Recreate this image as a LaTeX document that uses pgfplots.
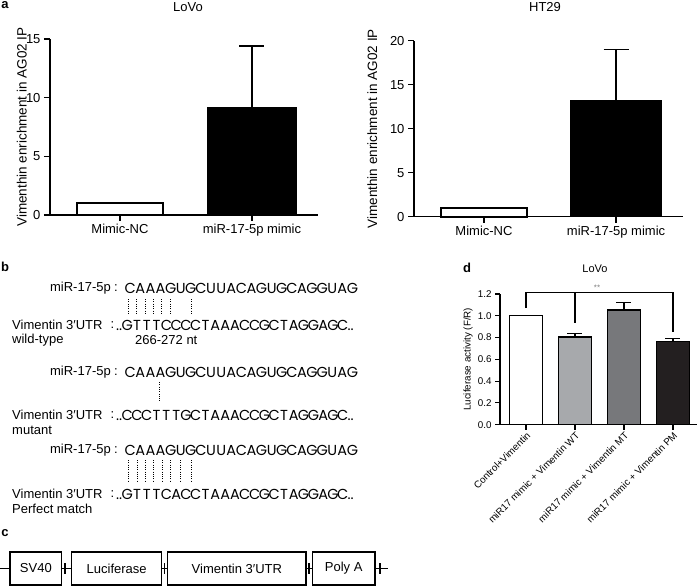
\documentclass[border=0pt]{standalone}
\usepackage{pgfplots}
\pgfplotsset{compat=1.18}
\usepackage{fontspec}
\setmainfont{Liberation Sans}
\newfontfamily\seqf{Poppins}
\definecolor{gA}{HTML}{A7A9AC}
\definecolor{gB}{HTML}{77787B}
\definecolor{gC}{HTML}{231F20}
\def\sq#1{\ifx#1\relax\else\makebox[10.1pt]{#1}\expandafter\sq\fi}
\def\sw#1{\ifx#1\relax\else\makebox[9.8pt]{#1}\expandafter\sw\fi}
\newcommand\fa{\fontsize{13}{15}\selectfont}
\newcommand\fal{\fontsize{13.5}{15}\selectfont}
\newcommand\fd{\fontsize{9.8}{11}\selectfont}
\newcommand\fb{\fontsize{13}{15}\selectfont}
\newcommand\fs{\seqf\fontsize{14.5}{16}\selectfont}
\pgfplotsset{
  barax/.style={scale only axis, anchor=south west, axis lines=left,
    axis line style={-, line width=1.3pt}, tick style={black, line width=1.3pt},
    tick align=outside, clip=false, ymin=0,
    /pgf/number format/assume math mode=true},
  errA/.style={error bars/.cd, y dir=plus, y explicit,
    error bar style={line width=1.4pt, black},
    error mark options={rotate=90, mark size=12.5pt, line width=1.4pt, black}},
  errD/.style={error bars/.cd, y dir=plus, y explicit,
    error bar style={line width=1.2pt, black},
    error mark options={rotate=90, mark size=7.5pt, line width=1.2pt, black}},
}
\begin{document}
\begin{tikzpicture}
\useasboundingbox (0,0) rectangle (698pt,587pt);

% ---- panel a, LoVo
\begin{axis}[barax, at={(50pt,372pt)}, width=268pt, height=176pt,
  xmin=-0.53, xmax=1.5, ymax=15, ytick={0,5,10,15},
  xtick={0,1}, xticklabels={Mimic-NC, miR-17-5p mimic},
  major tick length=6pt, tick label style={font=\fa},
  ylabel={Vimenthin enrichment in AG02 IP},
  ylabel style={font=\fal, at={(axis description cs:-0.105,0.5)}, anchor=center},
  title={LoVo}, title style={font=\fa, at={(axis description cs:0.515,1)}, anchor=base, yshift=21pt}]
\addplot[ybar, bar width=0.65, bar shift=0pt, fill=white, draw=black, line width=2pt] coordinates {(0,1.0)};
\addplot[ybar, bar width=0.67, bar shift=0pt, fill=black, draw=black, line width=1.5pt, errA] coordinates {(1,9.15) +- (0,5.25)};
\end{axis}

% ---- panel a, HT29
\begin{axis}[barax, at={(414pt,370.3pt)}, width=269pt, height=176pt,
  xmin=-0.53, xmax=1.507, ymax=20, ytick={0,5,10,15,20},
  xtick={0,1}, xticklabels={Mimic-NC, miR-17-5p mimic},
  major tick length=6pt, tick label style={font=\fa},
  ylabel={Vimenthin enrichment in AG02 IP},
  ylabel style={font=\fal, at={(axis description cs:-0.155,0.5)}, anchor=center},
  title={HT29}, title style={font=\fa, at={(axis description cs:0.487,1)}, anchor=base, yshift=22.7pt}]
\addplot[ybar, bar width=0.65, bar shift=0pt, fill=white, draw=black, line width=2pt] coordinates {(0,1.0)};
\addplot[ybar, bar width=0.68, bar shift=0pt, fill=black, draw=black, line width=1.5pt, errA] coordinates {(1,13.15) +- (0,5.85)};
\end{axis}

% ---- panel d
\begin{axis}[barax, at={(500pt,162.3pt)}, width=197pt, height=130.7pt,
  axis line style={-, line width=1.1pt}, tick style={black, line width=1.1pt},
  xmin=-0.53, xmax=3.49, ymax=1.2, ytick={0,0.2,0.4,0.6,0.8,1.0,1.2},
  yticklabel style={/pgf/number format/.cd, fixed, fixed zerofill, precision=1},
  xtick={0,1,2,3},
  xticklabels={Control+Vimentin, miR17 mimic + Vimentin WT, miR17 mimic + Vimentin MT, miR17 mimic + Vimentin PM},
  xticklabel style={rotate=45, anchor=north east, inner sep=1pt},
  major tick length=5pt, tick label style={font=\fd},
  ylabel={Luciferase activity (F/R)},
  ylabel style={font=\fd, at={(axis description cs:-0.162,0.5)}, anchor=center},
  title={LoVo}, title style={font=\fontsize{11}{13}\selectfont, at={(axis description cs:0.482,1)}, anchor=base, yshift=15.5pt}]
\addplot[ybar, bar width=0.66, bar shift=0pt, fill=white, draw=black, line width=1.3pt] coordinates {(0,1.0)};
\addplot[ybar, bar width=0.66, bar shift=0pt, fill=gA, draw=black, line width=1.3pt, errD] coordinates {(1,0.805) +- (0,0.033)};
\addplot[ybar, bar width=0.66, bar shift=0pt, fill=gB, draw=black, line width=1.3pt, errD] coordinates {(2,1.052) +- (0,0.071)};
\addplot[ybar, bar width=0.66, bar shift=0pt, fill=gC, draw=black, line width=1.3pt, errD] coordinates {(3,0.762) +- (0,0.031)};
\draw[line width=1.1pt] (axis cs:0,1.07) -- (axis cs:0,1.212) -- (axis cs:3,1.212) -- (axis cs:3,0.853);
\draw[line width=1.1pt] (axis cs:1,1.212) -- (axis cs:1,0.93);
\node[font=\fontsize{8}{9}\selectfont, text=gray, inner sep=0] at (axis cs:1.45,1.262) {**};
\end{axis}

\begin{scope}[x=1pt, y=-1pt, yshift=587pt]
% panel letters
\node[font=\bfseries\fontsize{13}{15}\selectfont, inner sep=0] at (5,5) {a};
\node[font=\bfseries\fontsize{13}{15}\selectfont, inner sep=0] at (5,267) {b};
\node[font=\bfseries\fontsize{13}{15}\selectfont, inner sep=0] at (5,533) {c};
\node[font=\bfseries\fontsize{13}{15}\selectfont, inner sep=0] at (467,268) {d};

% ---- panel b
\begin{scope}[every node/.style={inner sep=0}]
% block 1
\node[anchor=east, font=\fb] at (111,288) {miR-17-5p};
\node[font=\fb] at (116,288) {:};
\node[anchor=west, font=\fs] at (125,288) {\sq CAAAGUGCUUACAGUGCAGGUAG\relax};
\foreach \xx in {128.5,136.7,145,153.3,161.7,170,191.7}
  \draw[line width=1pt, dash pattern=on 0.9pt off 1.4pt] (\xx,299) -- (\xx,314);
\node[anchor=west, font=\fb] at (12,325) {Vimentin 3′UTR};
\node[font=\fb] at (112.5,325) {:};
\node[anchor=west, font=\fs] at (116,325) {..\sw GTTTCCCCTAAACCGCTAGGAGC\relax..};
\node[anchor=west, font=\fb] at (12,340) {wild-type};
\node[anchor=west, font=\fb] at (135,340) {266-272 nt};
% block 2
\node[anchor=east, font=\fb] at (111,372) {miR-17-5p};
\node[font=\fb] at (116,372) {:};
\node[anchor=west, font=\fs] at (125,372) {\sq CAAAGUGCUUACAGUGCAGGUAG\relax};
\draw[line width=1pt, dash pattern=on 0.9pt off 1.4pt] (159,382) -- (159,401);
\node[anchor=west, font=\fb] at (12,415) {Vimentin 3′UTR};
\node[font=\fb] at (112.5,415) {:};
\node[anchor=west, font=\fs] at (116,415) {..\sw CCCTTTGCTAAACCGCTAGGAGC\relax..};
\node[anchor=west, font=\fb] at (12,430) {mutant};
% block 3
\node[anchor=east, font=\fb] at (111,450) {miR-17-5p};
\node[font=\fb] at (116,450) {:};
\node[anchor=west, font=\fs] at (125,450) {\sq CAAAGUGCUUACAGUGCAGGUAG\relax};
\foreach \xx in {128,137,145,153.3,162,170,180,191}
  \draw[line width=1pt, dash pattern=on 0.9pt off 1.4pt] (\xx,460) -- (\xx,482);
\node[anchor=west, font=\fb] at (12,494) {Vimentin 3′UTR};
\node[font=\fb] at (112.5,494) {:};
\node[anchor=west, font=\fs] at (116,494) {..\sw GTTTCACCTAAACCGCTAGGAGC\relax..};
\node[anchor=west, font=\fb] at (12,509) {Perfect match};
\end{scope}

% ---- panel c
\draw[line width=1.3pt] (0,568.5) -- (388,568.5);
\foreach \xx in {65,164.5,309,380}
  \draw[line width=1.3pt] (\xx,563) -- (\xx,574);
\foreach \a/\b/\t in {10/61.7/SV40, 71.7/161.7/Luciferase, 167.7/306/Vimentin 3′UTR, 312.3/375/Poly A}
  \draw[line width=1.4pt, fill=white] (\a,552) rectangle (\b,585) node[midway, font=\fb] {\t};
\end{scope}
\end{tikzpicture}
\end{document}
